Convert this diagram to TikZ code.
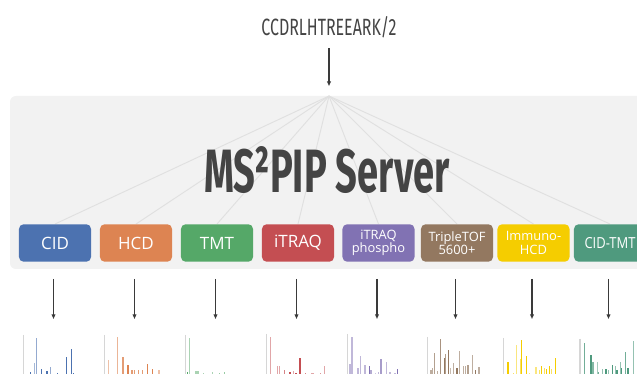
\documentclass[tikz,border=0pt]{standalone}
\usepackage{fontspec}
\setsansfont{Open Sans}
\newfontfamily\headfont{Fira Sans}
\usetikzlibrary{arrows.meta, backgrounds}

\definecolor{panelgray}{HTML}{F2F2F2}
\definecolor{fangray}{HTML}{E0E0E0}
\definecolor{axisgray}{HTML}{D6D6D6}
\definecolor{darkline}{HTML}{3A3A3A}
\definecolor{headgray}{HTML}{444444}
\definecolor{cidblue}{HTML}{4C72B0}
\definecolor{hcdorange}{HTML}{DD8452}
\definecolor{tmtgreen}{HTML}{55A868}
\definecolor{itraqred}{HTML}{C44E52}
\definecolor{phosphopurple}{HTML}{8172B3}
\definecolor{tofbrown}{HTML}{937860}
\definecolor{immunoyellow}{HTML}{F5CD00}
\definecolor{cidtmtgreen}{HTML}{4F9A7E}

\tikzset{
    model/.style={
        rounded corners=4pt,
        minimum width=61.5pt, % breite der box
        minimum height=32pt,
        inner sep=0,
        text=white,
        align=center,
        font=\sffamily\fontsize{14.5}{16}\selectfont
    },
    smallmodel/.style={
        model,
        font=\sffamily\fontsize{11}{11.4}\selectfont
    },
    fanline/.style={draw=fangray, line width=0.8pt},
    flow/.style={-{Triangle[length=4pt,width=3.2pt]}, draw=darkline, line width=1.1pt},
    axisline/.style={draw=axisgray, line width=1pt},
    peak/.style={line width=1.2pt}
}

\begin{document}
\begin{tikzpicture}[x=0.03cm, y=-0.03cm]
    \useasboundingbox (0,0) rectangle (637,374);

    % eingabe oben
    \node[anchor=base, inner sep=0, text=headgray] (title) at (329,36)
        {\resizebox{4.05cm}{0.57cm}{\headfont CCDRLHTREEARK/2}};
    \coordinate (hub) at (329,96);
    \draw[flow, shorten <=8pt, shorten >=8.5pt] (title.south) -- (hub);

    % modelle
    \node[model, fill=cidblue] (cid) at (55,243) {CID};
    \node[model, fill=hcdorange] (hcd) at (136,243) {HCD};
    \node[model, fill=tmtgreen] (tmt) at (217,243) {TMT};
    \node[model, fill=itraqred] (itraq) at (298,243) {iTRAQ};
    \node[smallmodel, fill=phosphopurple] (phospho) at (378.5,243) {iTRAQ\\phospho};
    \node[smallmodel, fill=tofbrown] (tof) at (457,243) {TripleTOF\\5600+};
    \node[smallmodel, fill=immunoyellow] (immuno) at (533.5,243) {Immuno-\\HCD};
    \node[model, fill=cidtmtgreen, font=\sffamily\fontsize{13}{14}\selectfont] (cidtmt) at (610,243)
        {\scalebox{0.85}[1]{CID-TMT}};

    \node[anchor=base, inner sep=0, text=headgray] (server) at (327,193)
        {\resizebox{7.35cm}{1.38cm}{\headfont\bfseries MS²PIP Server}};

    % server-flaeche und linien dahinter
    \begin{scope}[on background layer]
        \fill[panelgray, rounded corners=5pt] (10,96) rectangle (660,269);
        \foreach \b in {cid,hcd,tmt,itraq,phospho,tof,immuno,cidtmt}
            \draw[fanline] (hub) -- (\b.north);
    \end{scope}

    % pfeile zu den spektren
    \foreach \b in {cid,hcd,tmt,itraq,phospho,tof,immuno,cidtmt} {
        \path (\b.south) ++(-1.5,57) coordinate (\b-spec);
        \draw[flow, shorten <=14.5pt] (\b.south) ++(-1.5,0) -- (\b-spec);
    }

    % spektren
    \draw[axisline] (23.3,335) -- (23.3,376);
    \foreach \px/\py/\op in {30.3/372/1, 34.5/363/0.5, 36.7/338/0.6, 41.3/369/1, 47/371/1,
            50.7/367/0.6, 57.3/373/1, 66.3/357/1, 71.3/349/1, 73.7/373/1}
        \draw[peak, cidblue, opacity=\op] (\px,376) -- (\px,\py);

    \draw[axisline] (104.3,335) -- (104.3,376);
    \foreach \px/\py/\op in {108.7/360/0.5, 117.7/337/0.6, 123/357/0.8, 128/365/1, 132/370/0.8,
            134.3/370/0.8, 138.3/370/0.8, 142.3/370/0.8, 147.7/364/1, 152.7/369/1, 159/370/0.5}
        \draw[peak, hcdorange, opacity=\op] (\px,376) -- (\px,\py);

    \draw[axisline] (185.3,335) -- (185.3,376);
    \foreach \px/\py/\op in {187.3/372/1, 189.7/338/0.5, 196/371/0.5, 198/371/0.5, 203.7/373/0.5,
            212.3/372/0.5, 219.3/373/0.6, 224.7/372/0.6, 229.3/374/0.4}
        \draw[peak, tmtgreen, opacity=\op] (\px,376) -- (\px,\py);

    \draw[axisline] (266.3,334) -- (266.3,376);
    \foreach \px/\py/\op in {270.7/337/0.5, 277.7/366/0.5, 279.7/366/0.5, 284.7/370/0.7, 290/372/1,
            293.3/371/0.5, 296/373/1, 300/358/1, 305.3/373/0.7, 311.7/373/0.5, 313/373/0.5,
            320.7/373/0.6, 324.7/366/0.5}
        \draw[peak, itraqred, opacity=\op] (\px,376) -- (\px,\py);

    \draw[axisline] (347.3,334) -- (347.3,376);
    \foreach \px/\py/\op in {350/364/0.5, 352/337/0.5, 358/368/0.5, 360.7/356/0.5, 365/365/0.5,
            369.7/366/1, 371/370/0.6, 375.3/373/0.4, 378.7/372/0.5, 381/359/0.7, 386.7/362/0.5,
            390/372/0.5, 395/373/0.5, 397.3/369/1}
        \draw[peak, phosphopurple, opacity=\op] (\px,376) -- (\px,\py);

    \draw[axisline] (427.7,337) -- (427.7,376);
    \foreach \px/\py/\op in {431/370/0.6, 432.3/368/0.6, 434.3/353/0.7, 437.7/371/0.6, 440.3/339/0.8,
            444.3/358/1, 445.3/354/0.7, 448.7/350/1, 450.7/368/0.5, 453.7/363/0.6, 457/368/1,
            459.7/351/0.6, 463.3/366/0.6, 465.3/366/0.6, 468/365/0.7, 472.7/355/0.6, 475.7/370/1,
            479/367/0.6}
        \draw[peak, tofbrown, opacity=\op] (\px,376) -- (\px,\py);

    \draw[axisline] (503.7,338) -- (503.7,376);
    \foreach \px/\py/\op in {508/362/1, 513.7/373/0.6, 516.7/345/0.5, 520.7/359/0.6, 521.7/340/1,
            526.3/356/1, 529.7/373/0.5, 536/367/0.5, 539.3/370/0.6, 541.7/366/1, 544.7/368/0.6,
            546.3/369/1, 549.3/366/1, 551.3/369/0.6, 555.3/358/1}
        \draw[peak, immunoyellow, opacity=\op] (\px,376) -- (\px,\py);

    \draw[axisline] (580,339) -- (580,376);
    \foreach \px/\py/\op in {584.3/343/0.8, 591/355/1, 593/362/0.7, 597.7/362/0.5, 598.7/372/0.8,
            602.3/369/0.6, 606/369/1, 608.7/370/0.6, 612.3/365/1, 615.7/366/0.6, 617/370/1,
            620.7/362/0.6, 621.7/368/1, 625.3/352/0.8, 628/368/1, 633.7/341/0.6}
        \draw[peak, cidtmtgreen, opacity=\op] (\px,376) -- (\px,\py);
\end{tikzpicture}
\end{document}
